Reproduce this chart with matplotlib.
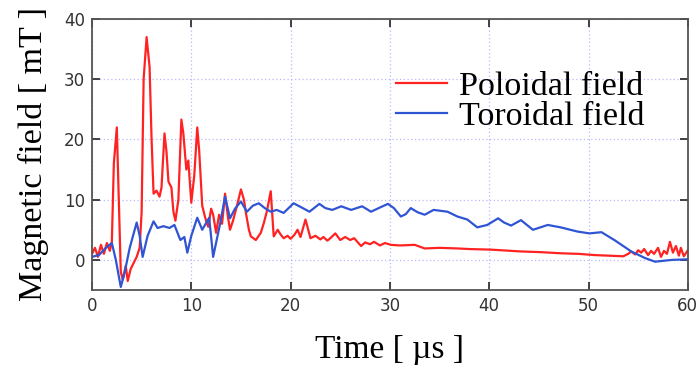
import matplotlib
matplotlib.use("Agg")
import matplotlib.pyplot as plt

# poloidal field (red)
t_pol = [0.0, 0.3, 0.6, 0.9, 1.2, 1.5, 1.8, 2.0, 2.2, 2.5, 2.7, 2.9, 3.1, 3.4, 3.6, 3.9,
         4.2, 4.5, 4.8, 5.0, 5.2, 5.5, 5.8, 6.0, 6.2, 6.5, 6.8, 7.0, 7.3, 7.5, 7.7, 8.0,
         8.2, 8.4, 8.7, 9.0, 9.2, 9.5, 9.7, 10.0, 10.3, 10.6, 10.8, 11.1, 11.4, 11.7, 12.0,
         12.2, 12.5, 12.8, 13.1, 13.4, 13.7, 13.9, 14.2, 14.6, 15.0, 15.3, 15.5, 15.8, 16.0,
         16.5, 17.0, 17.3, 17.6, 18.0, 18.3, 18.7, 19.0, 19.3, 19.7, 20.0, 20.4, 20.7, 21.0,
         21.5, 22.0, 22.5, 23.0, 23.3, 23.7, 24.0, 24.5, 25.0, 25.5, 26.0, 26.4, 27.1, 27.5,
         28.0, 28.4, 29.0, 29.5, 30.1, 31.0, 32.5, 33.5, 35.0, 36.8, 38.0, 40.2, 42.2, 43.2,
         45.0, 47.2, 49.0, 50.6, 52.0, 53.5, 54.0, 54.3, 54.7, 55.0, 55.3, 55.6, 56.0, 56.3,
         56.6, 57.0, 57.3, 57.6, 57.9, 58.2, 58.5, 58.8, 59.1, 59.3, 59.6, 60.0]
b_pol = [1.0, 2.0, 0.5, 2.5, 1.0, 2.8, 1.5, 3.0, 16.0, 22.0, 10.0, -2.0, -3.3, -1.0, -3.5, -1.5,
         -0.5, 0.5, 2.0, 8.0, 30.0, 37.0, 32.0, 20.0, 11.0, 11.5, 10.5, 12.0, 21.0, 18.0, 13.0, 12.0,
         8.0, 6.5, 10.0, 23.3, 21.0, 15.0, 16.5, 9.5, 14.0, 22.0, 18.0, 9.0, 7.0, 5.5, 8.5,
         7.5, 4.5, 7.5, 6.0, 11.0, 7.0, 5.0, 6.5, 9.0, 11.7, 10.0, 7.8, 5.0, 3.9,
         3.3, 4.5, 6.1, 8.0, 11.4, 3.9, 5.0, 4.2, 3.6, 4.0, 3.5, 4.2, 5.0, 3.8,
         6.7, 3.6, 4.0, 3.4, 3.8, 3.2, 3.6, 4.4, 3.3, 3.8, 3.3, 3.6, 2.3, 2.9,
         2.6, 3.0, 2.4, 2.8, 2.5, 2.4, 2.5, 1.9, 2.0, 1.9, 1.8, 1.7, 1.5, 1.4,
         1.3, 1.1, 1.0, 0.8, 0.7, 0.6, 1.0, 1.4, 0.9, 1.6, 1.2, 1.8, 0.8, 1.5,
         1.0, 2.0, 0.5, 1.5, 1.0, 3.0, 1.2, 2.3, 0.7, 2.0, 0.6, 1.6]

# toroidal field (blue)
t_tor = [0.0, 0.7, 1.4, 2.0, 2.4, 2.9, 3.3, 3.8, 4.5, 4.8, 5.1, 5.6, 6.2, 6.6, 7.2, 7.8,
         8.3, 8.9, 9.3, 9.6, 10.0, 10.6, 11.1, 11.8, 12.2, 12.9, 13.4, 13.9, 14.4, 15.0,
         15.6, 16.2, 16.8, 17.4, 18.0, 18.6, 19.3, 19.8, 20.3, 21.0, 21.9, 22.9, 23.5, 24.2,
         25.1, 26.1, 27.2, 28.1, 29.0, 29.8, 30.4, 31.1, 31.6, 32.1, 32.8, 33.5, 34.4, 35.8,
         36.8, 37.8, 38.8, 39.8, 40.9, 41.5, 42.2, 43.2, 44.4, 45.9, 47.2, 48.9, 50.1, 51.3,
         52.6, 53.5, 54.3, 55.7, 56.7, 58.4, 60.0]
b_tor = [0.5, 0.8, 2.0, 2.8, 0.0, -4.5, -2.0, 2.0, 6.2, 4.0, 0.5, 4.0, 6.4, 5.3, 5.6, 5.3,
         5.8, 3.3, 3.8, 1.2, 4.0, 7.0, 5.0, 7.0, 0.5, 6.0, 10.5, 6.9, 8.5, 9.7,
         8.0, 9.0, 9.4, 8.6, 8.0, 8.3, 7.8, 8.6, 9.4, 8.8, 8.0, 9.3, 8.6, 8.3,
         8.9, 8.3, 8.9, 8.0, 8.7, 9.3, 8.6, 7.2, 7.6, 8.6, 7.9, 7.5, 8.3, 8.0,
         7.2, 6.7, 5.4, 5.8, 6.9, 6.2, 5.7, 6.6, 5.0, 5.8, 5.4, 4.7, 4.4, 4.6,
         3.3, 2.3, 1.4, 0.3, -0.3, 0.0, 0.1]

x_ticks = [0, 10, 20, 30, 40, 50, 60]
y_ticks = [0, 10, 20, 30, 40]

fig = plt.figure(figsize=(6.99, 3.74), dpi=100)
ax = fig.add_axes([0.1316, 0.2246, 0.8524, 0.7246])

ax.plot(t_pol, b_pol, color="#ff2222", lw=1.6, label="Poloidal field")
ax.plot(t_tor, b_tor, color="#2f55d4", lw=1.6, label="Toroidal field")

ax.set_xlim(0, 60)
ax.set_ylim(-5, 40)
ax.set_xticks(x_ticks)
ax.set_yticks(y_ticks)
ax.grid(True, color="#b8b8ff", linestyle=(0, (1, 2)), lw=0.9)
ax.tick_params(direction="in", length=6, width=1.3, top=True, right=True,
               labelsize=12, labelcolor="#333333", color="#333333", pad=5)
for s in ax.spines.values():
    s.set_color("#555555")
    s.set_linewidth(1.3)

ax.set_xlabel("Time [ µs ]", family="Liberation Serif", fontsize=24, labelpad=14)
ax.set_ylabel("Magnetic field [ mT ]", family="Liberation Serif", fontsize=24.5, labelpad=11)

ax.legend(loc="upper right", bbox_to_anchor=(0.978, 0.922), frameon=False,
          prop={"family": "Liberation Serif", "size": 24.5},
          handlelength=1.5, handletextpad=0.35, labelspacing=0.0)

fig.savefig("out.png", dpi=100)
